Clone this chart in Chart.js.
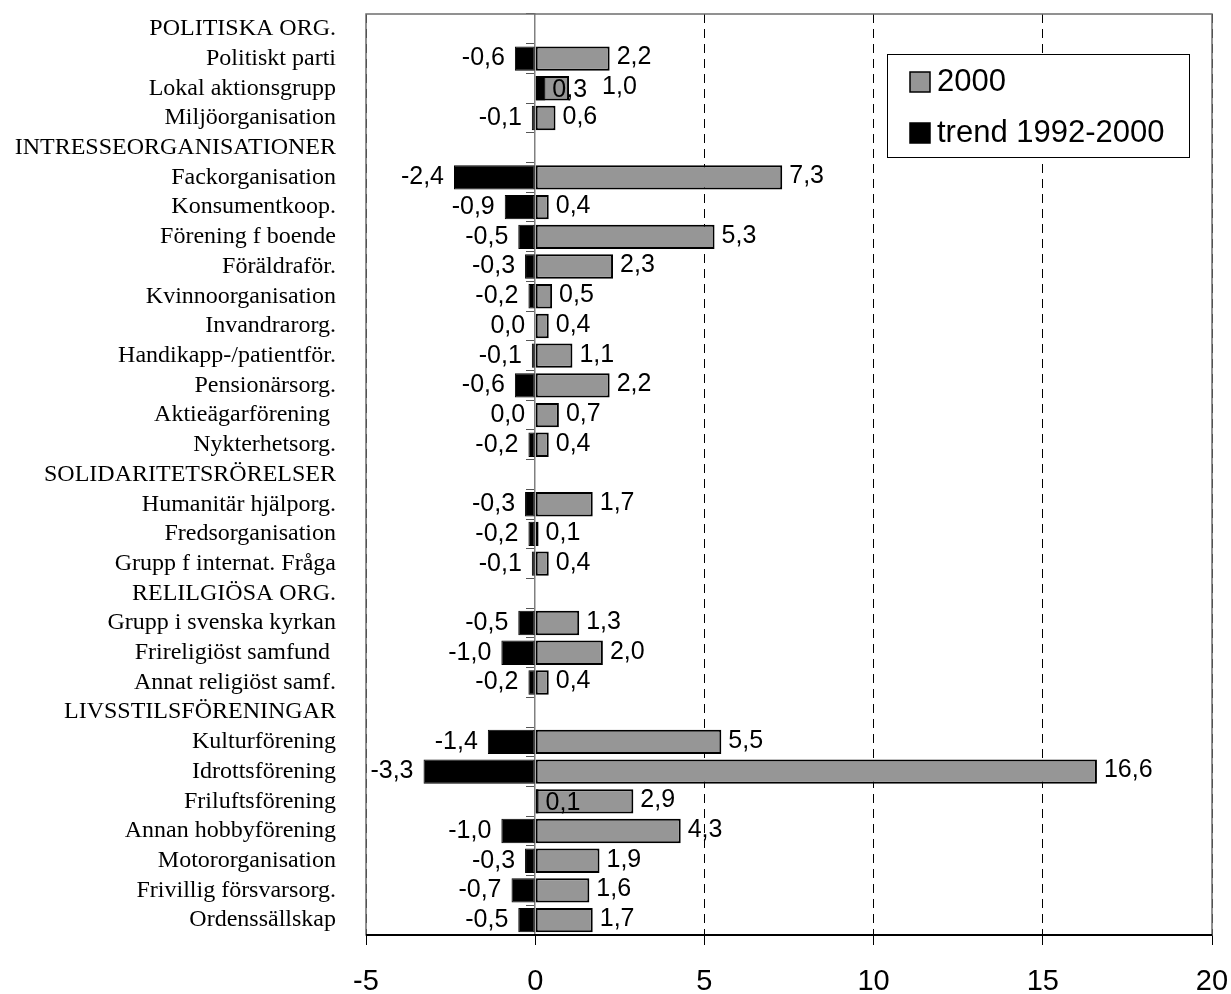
<!DOCTYPE html>
<html>
<head>
<meta charset="utf-8">
<script src="https://cdn.jsdelivr.net/npm/chart.js@4/dist/chart.umd.min.js"></script>
<style>
    html, body { margin: 0; padding: 0; background: #fff; }
    #wrap { width: 1231px; height: 994px; position: relative; }
</style>
</head>
<body>
<div id="wrap"><canvas id="chart"></canvas></div>
<script>
// categories, top to bottom (section headings have no values)
const categories = [
    'POLITISKA ORG.', 'Politiskt parti', 'Lokal aktionsgrupp', 'Miljöorganisation',
    'INTRESSEORGANISATIONER', 'Fackorganisation', 'Konsumentkoop.', 'Förening f boende',
    'Föräldraför.', 'Kvinnoorganisation', 'Invandrarorg.', 'Handikapp-/patientför.',
    'Pensionärsorg.', 'Aktieägarförening ', 'Nykterhetsorg.',
    'SOLIDARITETSRÖRELSER', 'Humanitär hjälporg.', 'Fredsorganisation', 'Grupp f internat. Fråga',
    'RELILGIÖSA ORG.', 'Grupp i svenska kyrkan', 'Frireligiöst samfund ', 'Annat religiöst samf.',
    'LIVSSTILSFÖRENINGAR', 'Kulturförening', 'Idrottsförening', 'Friluftsförening',
    'Annan hobbyförening', 'Motororganisation', 'Frivillig försvarsorg.', 'Ordenssällskap'
];
const values2000 = [
    null, 2.2, 1.0, 0.6,
    null, 7.3, 0.4, 5.3, 2.3, 0.5, 0.4, 1.1, 2.2, 0.7, 0.4,
    null, 1.7, 0.1, 0.4,
    null, 1.3, 2.0, 0.4,
    null, 5.5, 16.6, 2.9, 4.3, 1.9, 1.6, 1.7
];
const trend = [
    null, -0.6, 0.3, -0.1,
    null, -2.4, -0.9, -0.5, -0.3, -0.2, 0.0, -0.1, -0.6, 0.0, -0.2,
    null, -0.3, -0.2, -0.1,
    null, -0.5, -1.0, -0.2,
    null, -1.4, -3.3, 0.1, -1.0, -0.3, -0.7, -0.5
];
const xTicks = [-5, 0, 5, 10, 15, 20];
const seriesNames = ['2000', 'trend 1992-2000'];

const sans = '"Liberation Sans", Arial, sans-serif';
const serif = '"Liberation Serif", "Times New Roman", serif';

function fmt(v) {
    return v.toFixed(1).replace('.', ',');
}

// value labels at the bar ends
const valueLabels = {
    id: 'valueLabels',
    afterDatasetsDraw(chart) {
        const ctx = chart.ctx;
        const mainMeta = chart.getDatasetMeta(0);
        const trendMeta = chart.getDatasetMeta(1);
        ctx.save();
        ctx.font = '25px ' + sans;
        ctx.fillStyle = '#000';
        ctx.textBaseline = 'middle';
        categories.forEach((c, i) => {
            const v = values2000[i], t = trend[i];
            if (v === null) return;
            const mb = mainMeta.data[i], tb = trendMeta.data[i];
            let tEnd = null;
            const tTxt = fmt(t);
            if (t > 0) {
                ctx.textAlign = 'left';
                ctx.fillText(tTxt, tb.x + 7, tb.y + 2);
                tEnd = tb.x + 7 + ctx.measureText(tTxt).width;
            } else {
                ctx.textAlign = 'right';
                ctx.fillText(tTxt, tb.x - 10, tb.y);
            }
            let mx = mb.x + 7;
            if (tEnd !== null && tEnd + 6 > mx) mx = tEnd + 15;
            ctx.textAlign = 'left';
            ctx.fillText(fmt(v), mx, mb.y - 1);
        });
        ctx.restore();
    }
};

// plot frame + boxed legend
const frameAndLegend = {
    id: 'frameAndLegend',
    afterDraw(chart) {
        const ctx = chart.ctx;
        const a = chart.chartArea;
        ctx.save();
        ctx.strokeStyle = '#6e6e6e';
        ctx.lineWidth = 1.5;
        ctx.strokeRect(a.left, a.top, a.right - a.left, a.bottom - a.top);
        ctx.strokeStyle = '#000';
        ctx.lineWidth = 2;
        ctx.beginPath();
        ctx.moveTo(a.left, a.bottom);
        ctx.lineTo(a.right, a.bottom);
        ctx.stroke();

        // legend
        const lx = 887, ly = 54, lw = 302, lh = 103;
        ctx.fillStyle = '#fff';
        ctx.fillRect(lx, ly, lw, lh);
        ctx.strokeStyle = '#000';
        ctx.lineWidth = 1;
        ctx.strokeRect(lx + 0.5, ly + 0.5, lw, lh);
        ctx.font = '31px ' + sans;
        ctx.textBaseline = 'middle';
        ctx.textAlign = 'left';
        chart.data.datasets.forEach((ds, i) => {
            const cy = ly + 28 + i * 51;
            ctx.fillStyle = ds.backgroundColor;
            ctx.fillRect(lx + 23, cy - 10, 20, 20);
            ctx.strokeStyle = '#000';
            ctx.lineWidth = 1.5;
            ctx.strokeRect(lx + 23, cy - 10, 20, 20);
            ctx.fillStyle = '#000';
            ctx.fillText(ds.label, lx + 50, cy);
        });
        ctx.restore();
    }
};

const ctx = document.getElementById('chart').getContext('2d');
new Chart(ctx, {
    type: 'bar',
    data: {
        labels: categories,
        datasets: [{
            label: seriesNames[0],
            data: values2000,
            backgroundColor: '#969696',
            borderColor: '#000',
            borderWidth: 2,
            borderSkipped: false,
            grouped: false,
            order: 1,
            categoryPercentage: 0.82,
            barPercentage: 1
        }, {
            label: seriesNames[1],
            data: trend,
            backgroundColor: '#000',
            borderColor: '#000',
            borderWidth: 1,
            borderSkipped: false,
            grouped: false,
            order: 0,
            categoryPercentage: 0.82,
            barPercentage: 1
        }]
    },
    options: {
        indexAxis: 'y',
        responsive: true,
        maintainAspectRatio: false,
        animation: false,
        layout: { padding: { top: 14, right: 19, left: 0, bottom: 0 } },
        plugins: {
            legend: { display: false },
            tooltip: { enabled: false }
        },
        scales: {
            x: {
                type: 'linear',
                min: xTicks[0],
                max: xTicks[xTicks.length - 1],
                afterBuildTicks: (s) => { s.ticks = xTicks.map(v => ({ value: v })); },
                afterFit: (s) => {
                    s.height = 59;
                    s.paddingLeft = 0;
                    s.paddingRight = 0;
                },
                ticks: {
                    font: { family: sans, size: 29 },
                    color: '#000',
                    padding: 20,
                    callback: (v) => String(v)
                },
                grid: {
                    color: (c) => (c.tick && c.tick.value === 0) ? 'rgba(0,0,0,0)' : '#000',
                    lineWidth: 1,
                    tickLength: 10,
                    tickColor: '#000'
                },
                border: {
                    display: false,
                    dash: (c) => c.type === 'tick' ? [9, 6] : []
                }
            },
            y: {
                type: 'category',
                afterFit: (s) => {
                    s.width = 366;
                    s.paddingTop = 0;
                    s.paddingBottom = 0;
                },
                ticks: {
                    font: { family: serif, size: 24 },
                    color: '#000',
                    padding: 22,
                    autoSkip: false
                },
                grid: { display: false },
                border: { display: false }
            },
            y2: {
                type: 'category',
                axis: 'y',
                position: { x: 0 },
                offset: true,
                afterFit: (s) => {
                    s.paddingTop = 0;
                    s.paddingBottom = 0;
                },
                ticks: { display: false },
                grid: {
                    drawOnChartArea: false,
                    tickLength: 8,
                    tickColor: '#555',
                    offset: true
                },
                border: { color: '#808080', width: 1.5 }
            }
        }
    },
    plugins: [valueLabels, frameAndLegend]
});
</script>
</body>
</html>
